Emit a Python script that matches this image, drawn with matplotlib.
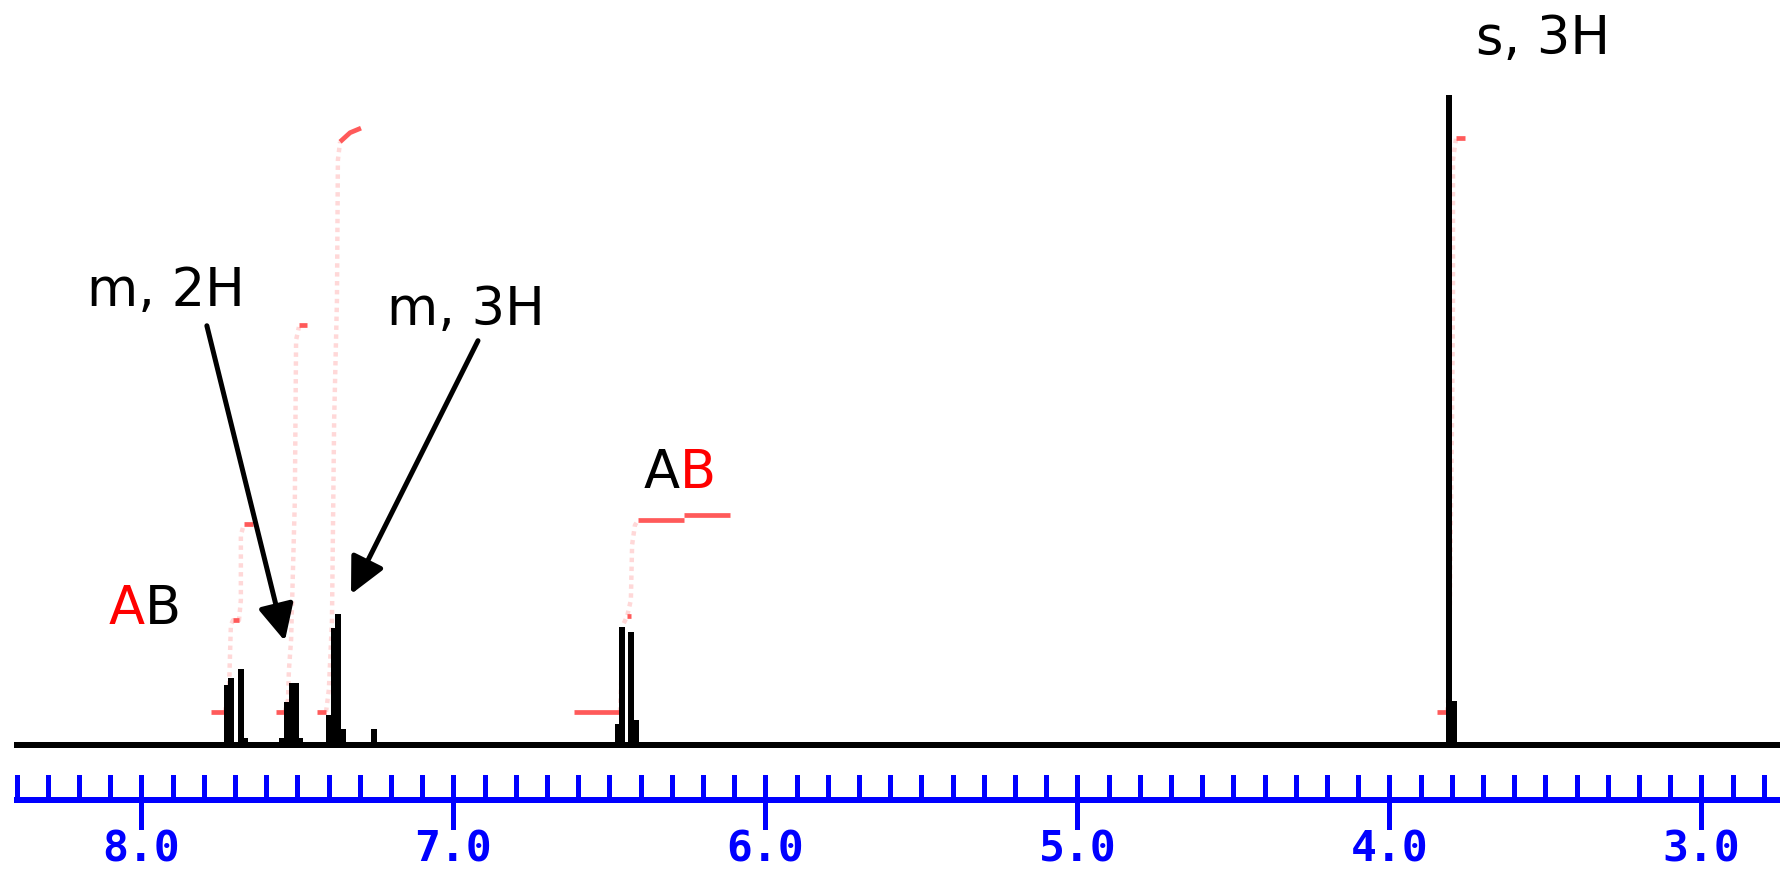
import numpy as np
import matplotlib
matplotlib.use("Agg")
import matplotlib.pyplot as plt
from matplotlib.transforms import blended_transform_factory

# spectrum columns (ppm, intensity with the singlet = 100)
peak_ppm = [7.725, 7.713, 7.681, 7.668,
            7.548, 7.532, 7.517, 7.504, 7.491,
            7.397, 7.382, 7.370, 7.355,
            7.253,
            6.472, 6.458, 6.429, 6.415,
            3.809, 3.794]
peak_int = [9.2, 10.3, 11.7, 1.1,
            1.1, 6.6, 9.5, 9.5, 1.1,
            4.6, 18.0, 20.2, 2.5,
            2.5,
            3.2, 18.2, 17.4, 3.8,
            100, 6.8]
baseline_ppm = [8.408, 2.70]

# integral curves (pink dotted parts)
integ_ppm = [
    [7.732, 7.719, 7.713, 7.706, 7.687, 7.681, 7.681, 7.671],
    [7.540, 7.530, 7.527, 7.520, 7.508, 7.504, 7.495],
    [7.408, 7.399, 7.389, 7.382, 7.373, 7.370, 7.363],
    [6.466, 6.463, 6.456, 6.443, 6.431, 6.427, 6.418, 6.408],
    [3.815, 3.809, 3.799, 3.796, 3.796, 3.786],
]
integ_int = [
    [5.1, 8.5, 18.5, 19.2, 19.2, 22.3, 32.3, 34.0],
    [5.1, 6.9, 11.5, 16.2, 37.7, 62.3, 64.3],
    [5.1, 8.5, 19.2, 50.0, 68.5, 90.0, 92.8],
    [5.1, 8.5, 18.5, 19.8, 22.3, 30.8, 33.8, 34.6],
    [5.1, 8.5, 50.0, 68.5, 90.0, 93.4],
]
# solid red pieces of the integrals
stub_ppm = [
    [7.777, 7.732], [7.706, 7.687], [7.671, 7.642],
    [7.568, 7.540], [7.495, 7.469],
    [7.437, 7.408], [7.363, 7.331, 7.296],
    [6.613, 6.466], [6.443, 6.431], [6.408, 6.261], [6.261, 6.113],
    [3.847, 3.815], [3.786, 3.758],
]
stub_int = [
    [5.1, 5.1], [19.2, 19.2], [34.0, 34.0],
    [5.1, 5.1], [64.6, 64.6],
    [5.1, 5.1], [92.8, 94.2, 94.9],
    [5.1, 5.1], [19.8, 19.8], [34.6, 34.6], [35.4, 35.4],
    [5.1, 5.1], [93.4, 93.4],
]

major_ticks = [8.0, 7.0, 6.0, 5.0, 4.0, 3.0]
major_labels = ["8.0", "7.0", "6.0", "5.0", "4.0", "3.0"]
minor_ticks = np.round(np.arange(2.8, 8.41, 0.1), 1)

W, H = 1780, 872
PX_PER_PPM = 312.0
X_LEFT = 8.453
PX_PER_UNIT = 6.5
BASE_PX = 745


def fx(px):
    return px / W


def fy(py):
    return 1 - py / H


def main():
    fig = plt.figure(figsize=(W / 100, H / 100), dpi=100)
    ax = fig.add_axes([0, 0, 1, 1])
    ax.set_xlim(X_LEFT, X_LEFT - W / PX_PER_PPM)
    ax.set_ylim(-(H - BASE_PX) / PX_PER_UNIT, BASE_PX / PX_PER_UNIT)
    ax.axis("off")

    # integrals
    for xs, ys in zip(integ_ppm, integ_int):
        ax.plot(xs, ys, color="#ffd8d8", lw=3.2, ls=(0, (1, 1)),
                solid_capstyle="butt", zorder=1)
    for xs, ys in zip(stub_ppm, stub_int):
        ax.plot(xs, ys, color="#ff5a5a", lw=3.4,
                solid_capstyle="butt", zorder=2)

    # spectrum
    ax.plot(baseline_ppm, [0, 0], color="black", lw=2.9,
            solid_capstyle="butt", antialiased=False, zorder=3)
    ax.vlines(peak_ppm, 0, peak_int, color="black", lw=3.2,
              antialiased=False, zorder=3)

    # ppm ruler
    tr = blended_transform_factory(ax.transData, ax.transAxes)
    blue = "#0000ff"
    ax.plot([8.408, 2.70], [fy(800), fy(800)], transform=tr, color=blue,
            lw=3.0, solid_capstyle="butt", antialiased=False)
    for t in minor_ticks:
        ax.plot([t, t], [fy(800), fy(775)], transform=tr, color=blue,
                lw=3.5, solid_capstyle="butt", antialiased=False)
    for t, lab in zip(major_ticks, major_labels):
        ax.plot([t, t], [fy(829), fy(775)], transform=tr, color=blue,
                lw=3.5, solid_capstyle="butt", antialiased=False)
        ax.text(t, fy(861), lab, transform=tr, color=blue, ha="center",
                va="baseline", fontsize=31, fontweight="bold",
                family="DejaVu Sans Mono")

    # labels
    fs = 38
    fig.text(fx(1543), fy(54), "s, 3H", ha="center", va="baseline", fontsize=fs)
    fig.text(fx(166), fy(306), "m, 2H", ha="center", va="baseline", fontsize=fs)
    fig.text(fx(466), fy(325), "m, 3H", ha="center", va="baseline", fontsize=fs)
    fig.text(fx(145), fy(624), "A", ha="right", va="baseline", fontsize=fs, color="red")
    fig.text(fx(145), fy(624), "B", ha="left", va="baseline", fontsize=fs, color="black")
    fig.text(fx(680), fy(488), "A", ha="right", va="baseline", fontsize=fs, color="black")
    fig.text(fx(680), fy(488), "B", ha="left", va="baseline", fontsize=fs, color="red")

    # arrows
    arrow = dict(arrowstyle="-|>,head_length=0.55,head_width=0.27",
                 color="black", lw=3.6, mutation_scale=40,
                 shrinkA=0, shrinkB=0)
    ax.annotate("", xy=(7.540, 16.0), xytext=(7.790, 64.5), arrowprops=arrow)
    ax.annotate("", xy=(7.328, 23.2), xytext=(6.921, 62.2), arrowprops=arrow)

    fig.savefig("out.png", dpi=100, facecolor="white")


if __name__ == "__main__":
    main()
